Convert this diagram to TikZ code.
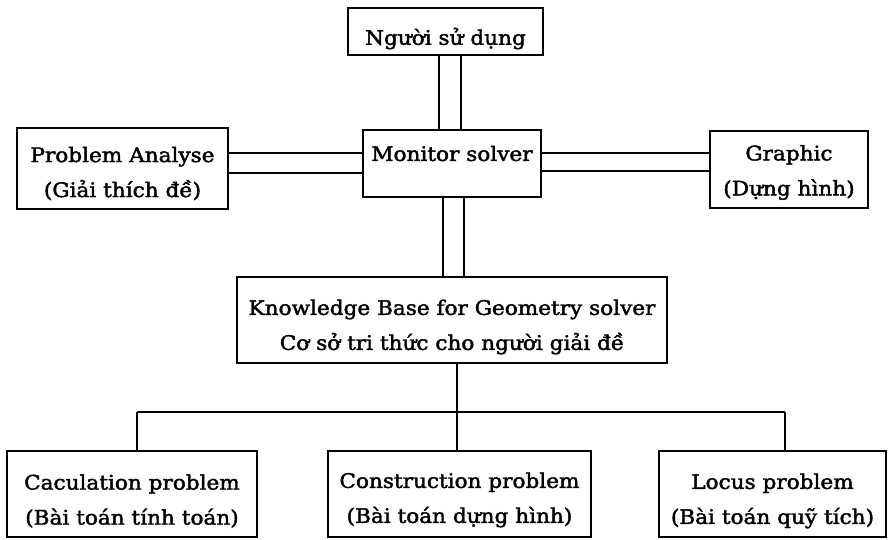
\documentclass[tikz,border=0pt]{standalone}
\usepackage{fontspec}
\setmainfont{DejaVu Serif}[FakeStretch=1.08,FakeBold=2]
\begin{document}
\begin{tikzpicture}[x=1pt,y=-1pt,
  box/.style={draw,line width=1.5pt,inner sep=0pt},
  txt/.style={inner sep=0pt,align=center,font=\fontsize{20}{35}\selectfont},
  conn/.style={line width=1.4pt},
  bus/.style={line width=1.9pt}]
\useasboundingbox (0,0) rectangle (888,540);
\node[box,minimum width=195pt,minimum height=47pt,label={[txt,yshift=-7pt]center:Người sử dụng}] (user) at (445.5,31.5) {};
\node[box,minimum width=178pt,minimum height=67pt,label={[txt,yshift=10pt]center:Monitor solver}] (mon) at (452,163.5) {};
\node[box,minimum width=211pt,minimum height=81pt,label={[txt,yshift=-5pt]center:Problem Analyse\\(Giải thích đề)}] (pa) at (122.5,168.5) {};
\node[box,minimum width=158pt,minimum height=77pt,label={[txt,yshift=-3pt]center:Graphic\\(Dựng hình)}] (gr) at (789,169.5) {};
\node[box,minimum width=430pt,minimum height=86pt,label={[txt,yshift=-7pt]center:Knowledge Base for Geometry solver\\Cơ sở tri thức cho người giải đề}] (kb) at (452,320) {};
\node[box,minimum width=250pt,minimum height=86pt,label={[txt,yshift=-7pt]center:Caculation problem\\(Bài toán tính toán)}] (c1) at (132,494) {};
\node[box,minimum width=263pt,minimum height=86pt,label={[txt,yshift=-6pt]center:Construction problem\\(Bài toán dựng hình)}] (c2) at (459.5,494) {};
\node[box,minimum width=227pt,minimum height=86pt,label={[txt,yshift=-7pt]center:Locus problem\\(Bài toán quỹ tích)}] (c3) at (772.5,494) {};
% user - monitor
\draw[conn] ([xshift=-13pt]mon.north) -- ([xshift=-13pt]mon.north |- user.south);
\draw[conn] ([xshift=9pt]mon.north) -- ([xshift=9pt]mon.north |- user.south);
% monitor - kb
\draw[conn] ([xshift=-9pt]mon.south) -- ([xshift=-9pt]mon.south |- kb.north);
\draw[conn] ([xshift=12pt]mon.south) -- ([xshift=12pt]mon.south |- kb.north);
% pa - monitor
\draw[conn] ([yshift=10.5pt]mon.west) -- ([yshift=10.5pt]mon.west -| pa.east);
\draw[conn] ([yshift=-9.5pt]mon.west) -- ([yshift=-9.5pt]mon.west -| pa.east);
% monitor - graphic
\draw[conn] ([yshift=10.5pt]mon.east) -- ([yshift=10.5pt]mon.east -| gr.west);
\draw[conn] ([yshift=-7.5pt]mon.east) -- ([yshift=-7.5pt]mon.east -| gr.west);
% kb - bus
\coordinate (bl) at (137,412);
\coordinate (br) at (785,412);
\coordinate (bm) at (457,412);
\draw[conn] (kb.south -| bm) -- (bm);
\draw[bus] (bl) -- (br);
\draw[conn] (bl) -- (bl |- c1.north);
\draw[conn] (bm) -- (bm |- c2.north);
\draw[conn] (br) -- (br |- c3.north);
\end{tikzpicture}
\end{document}
